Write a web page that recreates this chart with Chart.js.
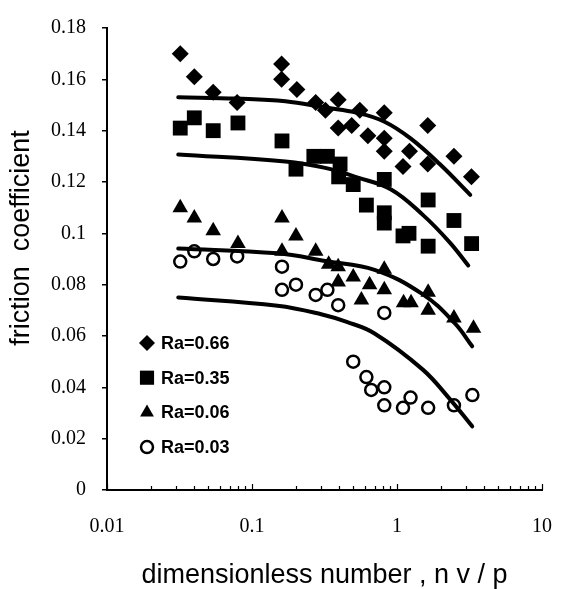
<!DOCTYPE html>
<html>
<head>
<meta charset="utf-8">
<script src="https://cdn.jsdelivr.net/npm/chart.js@4.4.0/dist/chart.umd.min.js"></script>
<style>
  html, body { margin: 0; padding: 0; background: #fff; }
</style>
</head>
<body>
<canvas id="chart" width="569" height="589"></canvas>
<script>
// measured points, x = nv/p, y = friction coefficient
const ra66X = [0.032, 0.040, 0.054, 0.079, 0.160, 0.160, 0.204, 0.275, 0.321, 0.393, 0.393, 0.554, 0.817, 0.487, 0.630, 0.817, 0.817, 1.22, 1.10, 1.63, 1.63, 2.47, 3.26];
const ra66Y = [0.170, 0.161, 0.155, 0.151, 0.166, 0.160, 0.156, 0.151, 0.148, 0.152, 0.141, 0.148, 0.147, 0.142, 0.138, 0.137, 0.132, 0.132, 0.126, 0.142, 0.127, 0.130, 0.122];

const ra35X = [0.032, 0.040, 0.054, 0.080, 0.161, 0.201, 0.267, 0.331, 0.405, 0.396, 0.499, 0.615, 0.817, 0.817, 0.817, 1.10, 1.21, 1.64, 1.64, 2.47, 3.27];
const ra35Y = [0.141, 0.145, 0.140, 0.143, 0.136, 0.125, 0.130, 0.130, 0.127, 0.122, 0.119, 0.111, 0.121, 0.108, 0.104, 0.099, 0.100, 0.113, 0.095, 0.105, 0.096];

const ra06X = [0.032, 0.040, 0.054, 0.080, 0.161, 0.201, 0.161, 0.275, 0.338, 0.393, 0.393, 0.499, 0.647, 0.568, 0.817, 0.817, 1.11, 1.25, 1.64, 1.64, 2.47, 3.37];
const ra06Y = [0.110, 0.106, 0.101, 0.096, 0.106, 0.099, 0.093, 0.093, 0.088, 0.087, 0.081, 0.083, 0.080, 0.074, 0.086, 0.078, 0.073, 0.073, 0.077, 0.070, 0.067, 0.063];

const ra03X = [0.032, 0.040, 0.054, 0.079, 0.161, 0.161, 0.201, 0.275, 0.331, 0.393, 0.817, 0.499, 0.615, 0.664, 0.817, 0.817, 1.10, 1.24, 1.64, 2.47, 3.31];
const ra03Y = [0.089, 0.093, 0.090, 0.091, 0.087, 0.078, 0.080, 0.076, 0.078, 0.072, 0.069, 0.050, 0.044, 0.039, 0.040, 0.033, 0.032, 0.036, 0.032, 0.033, 0.037];

// fitted curves
const fit66X = [0.031, 0.079, 0.17, 0.32, 0.53, 0.82, 1.24, 1.97, 3.2];
const fit66Y = [0.153, 0.1525, 0.1515, 0.149, 0.147, 0.1435, 0.137, 0.127, 0.115];
const fit35X = [0.031, 0.17, 0.32, 0.53, 0.91, 1.52, 2.3, 3.1];
const fit35Y = [0.1307, 0.128, 0.1255, 0.1218, 0.1171, 0.107, 0.0966, 0.0875];
const fit06X = [0.031, 0.15, 0.32, 0.7, 1.5, 2.5, 3.3];
const fit06Y = [0.0941, 0.0922, 0.0892, 0.0858, 0.0763, 0.065, 0.056];
const fit03X = [0.031, 0.15, 0.3, 0.45, 0.7, 1.5, 2.3, 3.3];
const fit03Y = [0.075, 0.0718, 0.0685, 0.0655, 0.061, 0.047, 0.0356, 0.0248];

const legendLabels = ['Ra=0.66', 'Ra=0.35', 'Ra=0.06', 'Ra=0.03'];
const xTickValues = [0.01, 0.02, 0.03, 0.04, 0.05, 0.06, 0.07, 0.08, 0.09,
                     0.1, 0.2, 0.3, 0.4, 0.5, 0.6, 0.7, 0.8, 0.9,
                     1, 2, 3, 4, 5, 6, 7, 8, 9, 10];
const xTickLabels = { 0.01: '0.01', 0.1: '0.1', 1: '1', 10: '10' };
const yTitle = 'friction  coefficient';

function toPoints(xs, ys) {
    return xs.map((x, i) => ({ x: x, y: ys[i] }));
}

const markerStyles = [
    { pointStyle: 'rectRot', radius: 8.5, fill: '#000', border: 0 },
    { pointStyle: 'rect', radius: 10.5, fill: '#000', border: 0 },
    { pointStyle: 'triangle', radius: 9, fill: '#000', border: 0 },
    { pointStyle: 'circle', radius: 6, fill: 'rgba(0,0,0,0)', border: 2.5 }
];

function markerSet(label, xs, ys, style) {
    return {
        label: label,
        data: toPoints(xs, ys),
        pointStyle: style.pointStyle,
        pointRadius: style.radius,
        pointBackgroundColor: style.fill,
        pointBorderColor: '#000',
        pointBorderWidth: style.border,
        showLine: false,
        order: 1
    };
}

function fitSet(xs, ys) {
    return {
        label: 'fit',
        data: toPoints(xs, ys),
        showLine: true,
        borderColor: '#000',
        borderWidth: 4,
        pointRadius: 0,
        tension: 0.4,
        borderCapStyle: 'round',
        order: 2
    };
}

// minor ticks on the x axis point up into the plot
const innerTicksPlugin = {
    id: 'innerTicks',
    afterDraw(chart) {
        const ctx = chart.ctx;
        const xs = chart.scales.x;
        const base = chart.chartArea.bottom;
        ctx.save();
        ctx.strokeStyle = '#000';
        ctx.lineWidth = 1.2;
        xTickValues.forEach(v => {
            const px = Math.round(xs.getPixelForValue(v)) + 0.5;
            const len = xTickLabels[v] ? 6 : 4;
            ctx.beginPath();
            ctx.moveTo(px, base);
            ctx.lineTo(px, base - len);
            ctx.stroke();
        });
        ctx.restore();
    }
};

// y title sits a little above the middle of the axis in the original
const yTitlePlugin = {
    id: 'yTitle',
    afterDraw(chart) {
        const ctx = chart.ctx;
        ctx.save();
        ctx.translate(22, 238);
        ctx.rotate(-Math.PI / 2);
        ctx.font = '27px "Liberation Sans", Arial, sans-serif';
        ctx.fillStyle = '#000';
        ctx.textAlign = 'center';
        ctx.textBaseline = 'middle';
        ctx.fillText(yTitle, 0, 0);
        ctx.restore();
    }
};

const innerLegendPlugin = {
    id: 'innerLegend',
    afterDraw(chart) {
        const ctx = chart.ctx;
        const left = 147, top = 343, step = 34.7;
        ctx.save();
        ctx.font = 'bold 18px "Liberation Sans", Arial, sans-serif';
        ctx.textBaseline = 'middle';
        ctx.textAlign = 'left';
        legendLabels.forEach((label, i) => {
            const st = markerStyles[i];
            const y = top + i * step;
            ctx.fillStyle = st.fill;
            ctx.strokeStyle = '#000';
            ctx.lineWidth = st.border;
            const r = st.pointStyle === 'circle' ? 6 : st.pointStyle === 'rect' ? 10 : 8;
            Chart.helpers.drawPoint(ctx, { pointStyle: st.pointStyle, radius: r, rotation: 0, borderWidth: st.border }, left, y);
            ctx.fillStyle = '#000';
            ctx.fillText(label, left + 14, y + 1);
        });
        ctx.restore();
    }
};

const ctx = document.getElementById('chart').getContext('2d');
new Chart(ctx, {
    type: 'scatter',
    data: {
        datasets: [
            markerSet(legendLabels[0], ra66X, ra66Y, markerStyles[0]),
            markerSet(legendLabels[1], ra35X, ra35Y, markerStyles[1]),
            markerSet(legendLabels[2], ra06X, ra06Y, markerStyles[2]),
            markerSet(legendLabels[3], ra03X, ra03Y, markerStyles[3]),
            fitSet(fit66X, fit66Y),
            fitSet(fit35X, fit35Y),
            fitSet(fit06X, fit06Y),
            fitSet(fit03X, fit03Y)
        ]
    },
    options: {
        responsive: false,
        animation: false,
        layout: { padding: { top: 17, right: 18, left: 0, bottom: 0 } },
        plugins: {
            legend: { display: false },
            tooltip: { enabled: false }
        },
        scales: {
            x: {
                type: 'logarithmic',
                min: 0.01,
                max: 10,
                afterBuildTicks(scale) {
                    scale.ticks = xTickValues.map(v => ({ value: v }));
                },
                afterFit(scale) { scale.height = 99; },
                grid: { display: false },
                border: { display: true, color: '#000', width: 2 },
                ticks: {
                    autoSkip: false,
                    maxRotation: 0,
                    padding: 17,
                    color: '#000',
                    font: { family: '"Liberation Serif", "Times New Roman", serif', size: 20 },
                    callback: v => xTickLabels[v] || ''
                },
                title: {
                    display: true,
                    text: 'dimensionless number , n v / p',
                    color: '#000',
                    font: { family: '"Liberation Sans", Arial, sans-serif', size: 27, lineHeight: 1.0 },
                    padding: { top: 0, bottom: 0 }
                }
            },
            y: {
                min: 0,
                max: 0.18,
                afterFit(scale) { scale.width = 107; },
                grid: { display: true, drawOnChartArea: false, drawTicks: true, tickLength: 5, color: '#000', lineWidth: 1.5 },
                border: { display: true, color: '#000', width: 2 },
                ticks: {
                    stepSize: 0.02,
                    padding: 16,
                    color: '#000',
                    font: { family: '"Liberation Serif", "Times New Roman", serif', size: 20 },
                    callback: v => String(+v.toFixed(2))
                },
                title: { display: false }
            }
        }
    },
    plugins: [innerTicksPlugin, yTitlePlugin, innerLegendPlugin]
});
</script>
</body>
</html>
